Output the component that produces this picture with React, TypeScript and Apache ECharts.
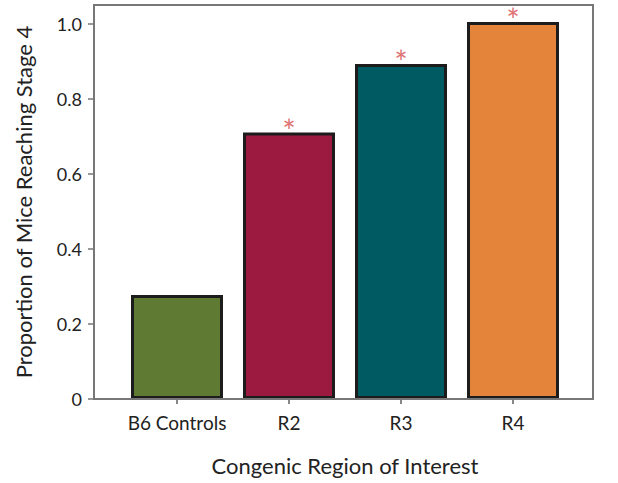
import React, { useEffect, useRef } from "react";
import * as echarts from "echarts";

const categories = ["B6 Controls", "R2", "R3", "R4"];
const values = [0.277, 0.71, 0.893, 1.005];
const barColors = ["#5e7a33", "#9c1a40", "#005a62", "#e3843a"];
const significant = [false, true, true, true];
const yTicks = [0, 0.2, 0.4, 0.6, 0.8, 1.0];

const FONT = "Lato";

export default function App() {
  const ref = useRef<HTMLDivElement>(null);
  useEffect(() => {
    if (!ref.current) return;
    const chart = echarts.init(ref.current, undefined, { renderer: "svg" });
    chart.setOption({
      animation: false,
      backgroundColor: "#ffffff",
      grid: { left: 121, right: 49, top: 5, bottom: 84, containLabel: false, outerBoundsMode: "none" },
      xAxis: {
        type: "category",
        data: categories,
        axisLine: { show: false },
        axisTick: { show: true, alignWithLabel: true, length: 5, lineStyle: { color: "#888", width: 2 } },
        axisLabel: { color: "#222", fontSize: 19, fontFamily: FONT, margin: 14, interval: 0 },
        name: "Congenic Region of Interest",
        nameLocation: "middle",
        nameGap: 55,
        nameTextStyle: { color: "#222", fontSize: 22, fontFamily: FONT },
      },
      yAxis: {
        type: "value",
        min: 0,
        max: 1.05,
        interval: 0.2,
        offset: 27,
        axisLine: { show: false },
        axisTick: { show: true, length: 6, lineStyle: { color: "#777", width: 1.5 },
          customValues: yTicks },
        splitLine: { show: false },
        axisLabel: {
          color: "#222",
          fontSize: 18,
          fontFamily: FONT,
          margin: 12,
          customValues: yTicks,
          formatter: (v: number) => (v > 1.001 ? "" : v === 0 ? "0" : v.toFixed(1)),
        },
        name: "Proportion of Mice Reaching Stage 4",
        nameLocation: "middle",
        nameGap: 60,
        nameTextStyle: { color: "#222", fontSize: 22, fontFamily: FONT },
      },
      series: [
        {
          type: "bar",
          barWidth: 92,
          data: values.map((v, i) => ({
            value: v,
            itemStyle: { color: barColors[i], borderColor: "#1c1c1c", borderWidth: 3 },
            label: {
              show: significant[i],
              position: "top",
              distance: -11,
              formatter: "*",
              color: "#de7474",
              fontSize: 32,
              lineHeight: 26,
              fontFamily: FONT,
            },
          })),
        },
      ],
      graphic: [
        {
          type: "rect",
          shape: { x: 94, y: 5, width: 499, height: 394 },
          style: { fill: "none", stroke: "#777", lineWidth: 2 },
          z: 100,
        },
      ],
    });
    return () => chart.dispose();
  }, []);
  return <div ref={ref} style={{ width: 618, height: 483, position: "absolute", left: 0, top: 0 }} />;
}
